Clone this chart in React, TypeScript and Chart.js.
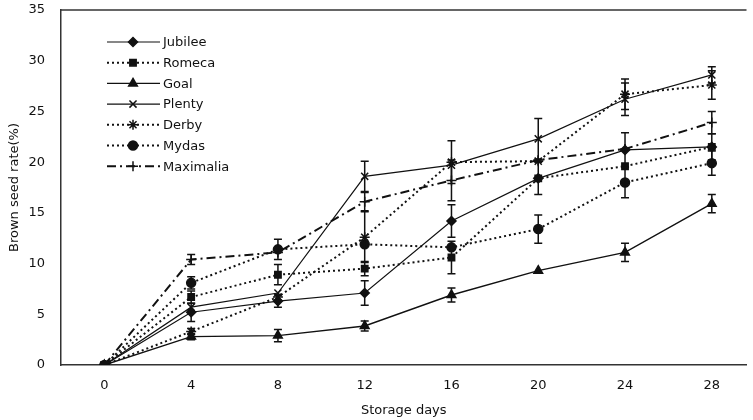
import React, { useEffect, useRef } from "react";
import { Chart, registerables } from "chart.js";
import { drawPoint } from "chart.js/helpers";

Chart.register(...registerables);

const days = [0, 4, 8, 12, 16, 20, 24, 28];
const seriesNames = ["Jubilee", "Romeca", "Goal", "Plenty", "Derby", "Mydas", "Maximalia"];

const jubilee = [0, 5.2, 6.3, 7.1, 14.2, 18.4, 21.2, 21.5];
const romeca = [0, 6.7, 8.9, 9.5, 10.6, 18.4, 19.6, 21.5];
const goal = [0, 2.8, 2.9, 3.85, 6.9, 9.3, 11.1, 15.9];
const plenty = [0, 5.7, 7.1, 18.6, 19.7, 22.3, 26.2, 28.6];
const derby = [0, 3.3, 6.7, 12.6, 20.0, 20.1, 26.7, 27.6];
const mydas = [0, 8.1, 11.4, 11.9, 11.6, 13.4, 18.0, 19.9];
const maximalia = [0, 10.4, 11.1, 16.1, 18.2, 20.2, 21.3, 23.9];

const jubileeErr = [0, 0.9, 0.6, 1.2, 1.6, 0, 1.7, 0];
const romecaErr = [0, 0.6, 1.0, 0.7, 1.6, 1.6, 0, 1.3];
const goalErr = [0, 0.3, 0.6, 0.5, 0.7, 0, 0.9, 0.9];
const plentyErr = [0, 0, 0, 1.5, 0, 2.0, 1.6, 0.8];
const derbyErr = [0, 0.3, 0, 2.5, 2.1, 0, 1.5, 1.4];
const mydasErr = [0, 0.6, 1.0, 0, 0, 1.4, 1.5, 1.2];
const maximaliaErr = [0, 0.5, 0, 0.9, 2.0, 0, 0, 1.1];

const yTicks = [0, 5, 10, 15, 20, 25, 30, 35];

const values = [jubilee, romeca, goal, plenty, derby, mydas, maximalia];
const errors = [jubileeErr, romecaErr, goalErr, plentyErr, derbyErr, mydasErr, maximaliaErr];

const styles = [
  { pointStyle: "rectRot", radius: 4.5, dash: [], width: 1.2 },
  { pointStyle: "rect", radius: 4.5, dash: [2, 3], width: 2 },
  { pointStyle: "triangle", radius: 5, dash: [], width: 1.4 },
  { pointStyle: "crossRot", radius: 5, dash: [], width: 1.2 },
  { pointStyle: "star", radius: 5, dash: [2, 3], width: 2 },
  { pointStyle: "circle", radius: 4.5, dash: [2, 3], width: 2 },
  { pointStyle: "cross", radius: 5, dash: [9, 4, 2, 4], width: 2 },
];

const FONT = "'DejaVu Sans', 'Liberation Sans', Arial, sans-serif";
const INK = "#111";

const errorBarPlugin = {
  id: "errorBars",
  afterDatasetsDraw(chart: any) {
    const { ctx, scales } = chart;
    const xs = scales.x;
    const ys = scales.y;
    ctx.save();
    ctx.strokeStyle = INK;
    ctx.lineWidth = 1.5;
    ctx.setLineDash([]);
    errors.forEach((errs, si) => {
      errs.forEach((e, i) => {
        if (!e) return;
        const v = values[si][i];
        const x = xs.getPixelForValue(days[i]);
        const yt = ys.getPixelForValue(v + e);
        const yb = ys.getPixelForValue(v - e);
        ctx.beginPath();
        ctx.moveTo(x, yt);
        ctx.lineTo(x, yb);
        ctx.moveTo(x - 4, yt);
        ctx.lineTo(x + 4, yt);
        ctx.moveTo(x - 4, yb);
        ctx.lineTo(x + 4, yb);
        ctx.stroke();
      });
    });
    ctx.restore();
  },
};

const framePlugin = {
  id: "frame",
  afterDraw(chart: any) {
    const { ctx, chartArea } = chart;
    ctx.save();
    ctx.strokeStyle = "#333";
    ctx.lineWidth = 1.5;
    ctx.beginPath();
    ctx.moveTo(chartArea.left, chartArea.top);
    ctx.lineTo(chartArea.right, chartArea.top);
    ctx.stroke();
    ctx.restore();
  },
};

const legendPlugin = {
  id: "customLegend",
  afterDraw(chart: any) {
    const { ctx } = chart;
    ctx.save();
    seriesNames.forEach((name, i) => {
      const st = styles[i];
      const y = 42 + i * 20.7;
      ctx.strokeStyle = INK;
      ctx.fillStyle = INK;
      ctx.lineWidth = st.width;
      ctx.setLineDash(st.dash);
      ctx.beginPath();
      ctx.moveTo(107, y);
      ctx.lineTo(160, y);
      ctx.stroke();
      ctx.setLineDash([]);
      ctx.lineWidth = 1.5;
      drawPoint(ctx, { pointStyle: st.pointStyle, radius: st.radius, rotation: 0, borderWidth: 1.5 } as any, 133, y);
      ctx.font = `13px ${FONT}`;
      ctx.textAlign = "left";
      ctx.textBaseline = "middle";
      ctx.fillText(name, 163, y + 1);
    });
    ctx.restore();
  },
};

export default function App() {
  const ref = useRef<HTMLCanvasElement | null>(null);
  useEffect(() => {
    if (!ref.current) return;
    const chart = new Chart(ref.current, {
      type: "line",
      data: {
        datasets: seriesNames.map((name, si) => ({
          label: name,
          data: days.map((d, i) => ({ x: d, y: values[si][i] })),
          borderColor: INK,
          backgroundColor: INK,
          pointBackgroundColor: INK,
          pointBorderColor: INK,
          borderWidth: styles[si].width,
          borderDash: styles[si].dash,
          pointStyle: styles[si].pointStyle as any,
          pointRadius: styles[si].radius,
          pointBorderWidth: 1.5,
          tension: 0,
          fill: false,
        })),
      },
      options: {
        responsive: false,
        animation: false,
        events: [],
        layout: { padding: { top: 10, left: 0, right: 0, bottom: 0 } },
        plugins: { legend: { display: false }, tooltip: { enabled: false } },
        scales: {
          x: {
            type: "linear",
            min: -2,
            max: 29.6,
            afterBuildTicks: (s: any) => {
              s.ticks = days.map((d) => ({ value: d }));
            },
            afterFit: (s: any) => {
              s.height = 55;
              s.paddingLeft = 0;
              s.paddingRight = 0;
            },
            grid: { display: false, drawTicks: false },
            border: { display: true, color: "#333", width: 1.5 },
            ticks: {
              padding: 13,
              color: INK,
              font: { family: FONT, size: 13 },
              autoSkip: false,
              maxRotation: 0,
            },
            title: {
              display: true,
              text: "Storage days",
              color: INK,
              font: { family: FONT, size: 13 },
              padding: { top: 0, bottom: 2 },
            },
          },
          y: {
            type: "linear",
            min: 0,
            max: 35,
            afterBuildTicks: (s: any) => {
              s.ticks = yTicks.map((v) => ({ value: v }));
            },
            afterFit: (s: any) => {
              s.width = 61;
              s.paddingTop = 0;
              s.paddingBottom = 0;
            },
            grid: { display: false, drawTicks: false },
            border: { display: true, color: "#333", width: 1.5 },
            ticks: {
              padding: 16,
              color: INK,
              font: { family: FONT, size: 13 },
            },
            title: {
              display: true,
              text: "Brown seed rate(%)",
              color: INK,
              font: { family: FONT, size: 13 },
              padding: { top: 7, bottom: 0 },
            },
          },
        },
      },
      plugins: [errorBarPlugin, framePlugin, legendPlugin],
    });
    return () => chart.destroy();
  }, []);
  return (
    <div style={{ position: "fixed", left: 0, top: 0, width: 753, height: 420, background: "#fff" }}>
      <canvas ref={ref} width={753} height={420} />
    </div>
  );
}
